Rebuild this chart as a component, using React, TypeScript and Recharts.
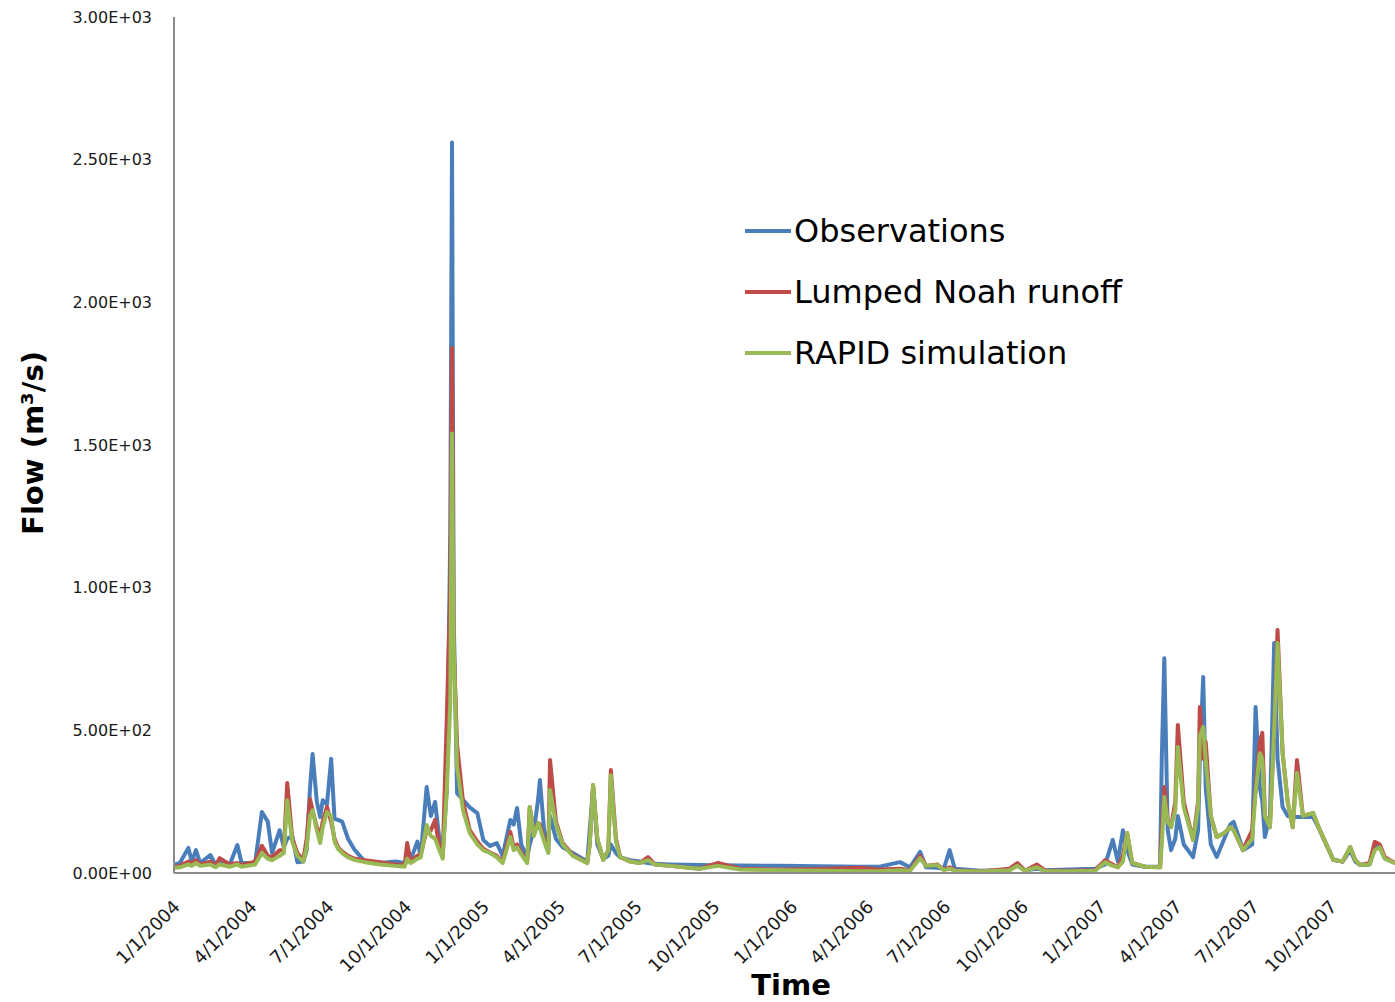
import React from 'react';
import { LineChart, Line, XAxis, YAxis, Legend, Label } from 'recharts';

// sampled daily flows, m3/s
const dates = [
  '2004-01-01', '2004-01-08', '2004-01-18', '2004-01-22', '2004-01-27', '2004-02-01', '2004-02-13', '2004-02-19',
  '2004-02-24', '2004-03-07', '2004-03-16', '2004-03-21', '2004-04-06', '2004-04-14', '2004-04-21', '2004-04-26',
  '2004-05-05', '2004-05-10', '2004-05-14', '2004-05-20', '2004-05-26', '2004-06-02', '2004-06-06', '2004-06-10',
  '2004-06-13', '2004-06-18', '2004-06-22', '2004-06-25', '2004-06-30', '2004-07-05', '2004-07-09', '2004-07-13',
  '2004-07-18', '2004-07-25', '2004-08-02', '2004-08-14', '2004-09-01', '2004-09-19', '2004-09-30', '2004-10-03',
  '2004-10-07', '2004-10-15', '2004-10-19', '2004-10-26', '2004-10-31', '2004-11-05', '2004-11-10', '2004-11-14',
  '2004-11-19', '2004-11-23', '2004-11-25', '2004-11-27', '2004-12-01', '2004-12-08', '2004-12-16', '2004-12-25',
  '2005-01-01', '2005-01-09', '2005-01-17', '2005-01-24', '2005-02-02', '2005-02-06', '2005-02-10', '2005-02-15',
  '2005-02-22', '2005-02-25', '2005-03-02', '2005-03-07', '2005-03-09', '2005-03-14', '2005-03-19', '2005-03-21',
  '2005-03-28', '2005-04-05', '2005-04-17', '2005-05-04', '2005-05-07', '2005-05-11', '2005-05-16', '2005-05-23',
  '2005-05-29', '2005-06-01', '2005-06-07', '2005-06-12', '2005-06-24', '2005-07-05', '2005-07-15', '2005-07-23',
  '2005-08-10', '2005-09-14', '2005-10-06', '2005-11-01', '2005-12-18', '2006-02-03', '2006-03-23', '2006-04-15',
  '2006-05-09', '2006-05-21', '2006-06-02', '2006-06-09', '2006-06-22', '2006-06-30', '2006-07-07', '2006-07-13',
  '2006-08-12', '2006-09-16', '2006-09-25', '2006-10-04', '2006-10-18', '2006-10-28', '2006-11-26', '2006-12-26',
  '2007-01-07', '2007-01-16', '2007-01-22', '2007-01-28', '2007-02-02', '2007-02-08', '2007-02-23', '2007-03-13',
  '2007-03-15', '2007-03-18', '2007-03-22', '2007-03-26', '2007-03-31', '2007-04-03', '2007-04-10', '2007-04-21',
  '2007-04-27', '2007-04-29', '2007-05-03', '2007-05-06', '2007-05-12', '2007-05-19', '2007-05-28', '2007-06-04',
  '2007-06-08', '2007-06-16', '2007-06-19', '2007-06-30', '2007-07-04', '2007-07-09', '2007-07-12', '2007-07-15',
  '2007-07-21', '2007-07-26', '2007-07-30', '2007-08-05', '2007-08-11', '2007-08-17', '2007-08-22', '2007-08-29',
  '2007-09-10', '2007-09-18', '2007-10-04', '2007-10-15', '2007-10-24', '2007-10-30', '2007-11-05', '2007-11-16',
  '2007-11-22', '2007-11-28', '2007-12-04', '2007-12-16',
];

const observations = [
  28, 35, 88, 40, 80, 35, 63, 30,
  40, 30, 98, 35, 35, 214, 180, 70,
  150, 90, 120, 130, 38, 40, 80, 300,
  417, 250, 196, 255, 240, 400, 190, 186,
  180, 120, 80, 40, 35, 40, 35, 40,
  45, 110, 60, 301, 200, 249, 120, 70,
  300, 1200, 2560, 900, 280, 256, 230, 210,
  116, 95, 105, 60, 186, 170, 228, 100,
  55, 100, 150, 260, 326, 150, 110, 200,
  120, 90, 70, 40, 150, 300, 100, 50,
  60, 100, 70, 55, 45, 40, 35, 32,
  30, 28, 27, 26, 25, 24, 22, 22,
  38, 20, 74, 20, 18, 15, 80, 15,
  8, 10, 30, 10, 15, 10, 12, 15,
  30, 116, 40, 150, 80, 30, 22, 22,
  400, 753, 150, 80, 120, 200, 100, 56,
  150, 400, 687, 300, 100, 56, 120, 170,
  179, 110, 80, 100, 582, 300, 250, 126,
  200, 806, 400, 231, 200, 196, 196, 196,
  196, 150, 46, 40, 80, 40, 28, 30,
  100, 90, 50, 35,
];

const lumpedNoah = [
  20, 25, 40, 35, 45, 30, 40, 25,
  52, 30, 35, 28, 40, 95, 60, 55,
  80, 80, 315, 120, 70, 45, 120, 259,
  220, 160, 130, 180, 231, 180, 120, 90,
  75, 60, 50, 45, 38, 30, 28, 105,
  40, 60, 65, 150, 150, 186, 90, 56,
  560, 1000, 1840, 800, 450, 250, 150, 110,
  85, 72, 60, 40, 144, 90, 100, 70,
  40, 231, 140, 175, 170, 120, 75, 396,
  180, 105, 63, 35, 100, 308, 120, 46,
  80, 361, 120, 56, 40, 35, 56, 30,
  25, 15, 35, 15, 12, 14, 18, 12,
  15, 10, 60, 25, 30, 12, 20, 10,
  5, 15, 35, 8, 30, 8, 8, 10,
  45, 30, 20, 60, 140, 35, 22, 20,
  150, 301, 180, 161, 250, 519, 250, 116,
  250, 582, 400, 459, 200, 126, 140, 161,
  150, 100, 80, 150, 300, 460, 491, 200,
  161, 500, 852, 420, 250, 160, 396, 200,
  210, 150, 46, 40, 91, 45, 28, 35,
  109, 100, 55, 35,
];

const rapidSim = [
  18, 20, 30, 25, 35, 25, 30, 20,
  30, 22, 30, 22, 30, 70, 50, 45,
  60, 70, 255, 110, 60, 40, 90, 200,
  220, 150, 105, 160, 214, 200, 110, 85,
  70, 55, 45, 38, 30, 25, 22, 50,
  35, 50, 55, 168, 130, 120, 80, 50,
  300, 600, 1540, 800, 372, 220, 140, 100,
  80, 70, 55, 35, 126, 80, 90, 65,
  35, 231, 130, 175, 160, 110, 70, 291,
  170, 100, 60, 35, 100, 308, 120, 46,
  80, 343, 110, 56, 40, 35, 45, 30,
  25, 15, 25, 12, 10, 8, 6, 6,
  10, 8, 52, 25, 28, 10, 15, 8,
  5, 10, 25, 8, 20, 6, 6, 8,
  38, 25, 20, 40, 140, 35, 22, 20,
  100, 266, 180, 161, 220, 442, 230, 116,
  230, 480, 512, 396, 200, 126, 140, 161,
  150, 100, 80, 120, 280, 420, 400, 200,
  161, 500, 806, 420, 250, 161, 351, 200,
  210, 150, 46, 40, 91, 45, 28, 30,
  80, 90, 50, 35,
];

const seriesNames = ['Observations', 'Lumped Noah runoff', 'RAPID simulation'];
const seriesKeys = ['obs', 'lumped', 'rapid'];
const seriesColors = ['#4A7EBB', '#BE4B48', '#98B954'];

const quarterLabels = [
  '1/1/2004', '4/1/2004', '7/1/2004', '10/1/2004',
  '1/1/2005', '4/1/2005', '7/1/2005', '10/1/2005',
  '1/1/2006', '4/1/2006', '7/1/2006', '10/1/2006',
  '1/1/2007', '4/1/2007', '7/1/2007', '10/1/2007',
];
const flowTicks = [0, 500, 1000, 1500, 2000, 2500, 3000];

const FONT = '"DejaVu Sans", sans-serif';

const isoToUtc = (s: string) => {
  const [y, m, d] = s.split('-').map(Number);
  return Date.UTC(y, m - 1, d);
};
const labelToUtc = (s: string) => {
  const [m, d, y] = s.split('/').map(Number);
  return Date.UTC(y, m - 1, d);
};

const rows = dates.map((d, i) => ({
  t: isoToUtc(d),
  obs: observations[i],
  lumped: lumpedNoah[i],
  rapid: rapidSim[i],
}));
const quarterTicks = quarterLabels.map(labelToUtc);
const xDomain = [isoToUtc(dates[0]), isoToUtc(dates[dates.length - 1])];

// 2500 -> "2.50E+03"
const sci = (v: number) => {
  if (v === 0) return '0.00E+00';
  const e = Math.floor(Math.log10(v));
  return `${(v / Math.pow(10, e)).toFixed(2)}E+${String(e).padStart(2, '0')}`;
};

const DateTick = ({ x, y, payload }: any) => {
  const i = quarterTicks.indexOf(payload.value);
  const tx = x + 7;
  const ty = y + 27;
  return (
    <text x={tx} y={ty} transform={`rotate(-45 ${tx} ${ty})`} textAnchor="end" fontSize={18} fontFamily={FONT} fill="#1a1a1a">
      {i >= 0 ? quarterLabels[i] : ''}
    </text>
  );
};

const FlowTick = ({ y, payload }: any) => (
  <text x={152} y={y} dy="0.36em" textAnchor="end" fontSize={16} fontFamily={FONT} fill="#1a1a1a">
    {sci(payload.value)}
  </text>
);

const LegendBox = () => (
  <div style={{ fontFamily: FONT, fontSize: 32, color: '#000' }}>
    {seriesNames.map((name, i) => (
      <div key={name} style={{ display: 'flex', alignItems: 'center', height: 61, whiteSpace: 'nowrap' }}>
        <span style={{ display: 'inline-block', width: 46, height: 4, background: seriesColors[i], marginRight: 3 }} />
        <span>{name}</span>
      </div>
    ))}
  </div>
);

export default function App() {
  return (
    <div style={{ position: 'absolute', left: 0, top: 0, background: '#fff' }}>
      <LineChart width={1395} height={1002} data={rows} margin={{ top: 17, right: 0, bottom: 0, left: 0 }}>
        <XAxis
          dataKey="t"
          type="number"
          domain={xDomain}
          ticks={quarterTicks}
          tick={<DateTick />}
          tickLine={false}
          interval={0}
          height={129}
          axisLine={{ stroke: '#8c8c8c', strokeWidth: 2 }}
        >
          <Label
            content={() => (
              <text x={791} y={995} textAnchor="middle" fontSize={29} fontWeight="bold" fontFamily={FONT} fill="#000">
                Time
              </text>
            )}
          />
        </XAxis>
        <YAxis
          type="number"
          domain={[0, 3000]}
          ticks={flowTicks}
          tick={<FlowTick />}
          tickLine={false}
          width={174}
          axisLine={{ stroke: '#8c8c8c', strokeWidth: 2 }}
        >
          <Label
            content={() => (
              <text
                x={33}
                y={443}
                transform="rotate(-90 33 443)"
                textAnchor="middle"
                dominantBaseline="central"
                fontSize={29}
                fontWeight="bold"
                fontFamily={FONT}
                fill="#000"
              >
                Flow (m³/s)
              </text>
            )}
          />
        </YAxis>
        <Legend
          layout="vertical"
          align="center"
          verticalAlign="middle"
          content={<LegendBox />}
          wrapperStyle={{ left: 745, top: 200, width: 440 }}
        />
        {seriesKeys.map((key, i) => (
          <Line
            key={key}
            dataKey={key}
            name={seriesNames[i]}
            type="linear"
            stroke={seriesColors[i]}
            strokeWidth={4}
            strokeLinejoin="round"
            dot={false}
            isAnimationActive={false}
          />
        ))}
      </LineChart>
    </div>
  );
}
